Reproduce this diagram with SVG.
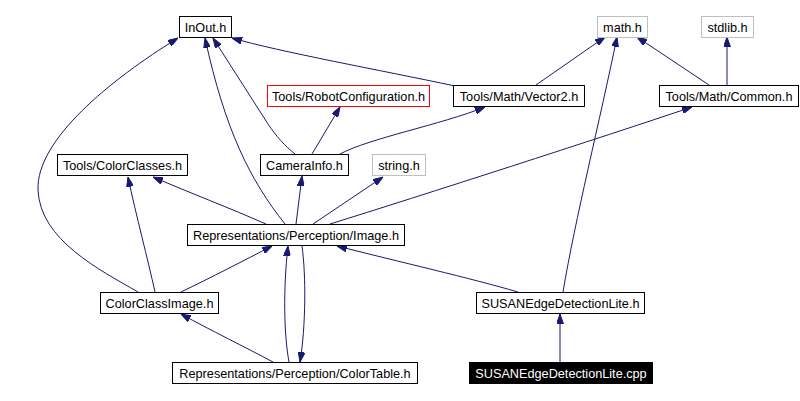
<svg xmlns="http://www.w3.org/2000/svg" width="800" height="401" viewBox="0 0 800 401">
<style>
.n rect{fill:#fff;stroke:#000;stroke-width:1}
.g rect{stroke:#bfbfbf}
.r rect{stroke:#ff0000}
.k rect{fill:#000}
text{font-family:"Liberation Sans",Arial,sans-serif;font-size:12.7px;text-anchor:middle;fill:#000}
.k text{fill:#fff}
#edges path{fill:none;stroke:#191970;stroke-width:1;marker-end:url(#a)}
</style>
<defs>
<marker id="a" markerWidth="10" markerHeight="7" refX="10" refY="3.5" orient="auto" markerUnits="userSpaceOnUse"><path d="M0,0 L10,3.5 L0,7 z" fill="#191970" stroke="#191970" stroke-width="1"/></marker>
</defs>
<rect width="800" height="401" fill="#fff"/>
<g id="edges">
<path d="M138,292 C100,270 40,240 38,190 C36,140 110,80 178,38"/>
<path d="M155,292 C148,260 136,215 128,177"/>
<path d="M181,292 C210,278 245,260 272,246"/>
<path d="M273,362 C245,347 210,330 181,314"/>
<path d="M289,362 C284,335 283,290 288,246"/>
<path d="M302,246 C306,275 306,325 300,362"/>
<path d="M285,224 C250,180 225,130 205,38"/>
<path d="M295,154 C285,146 276,136 268,124 L213,38"/>
<path d="M312,154 L340,107"/>
<path d="M340,154 C370,138 440,125 485,107"/>
<path d="M455,86 C380,70 280,52 232,38"/>
<path d="M536,85 L605,37"/>
<path d="M563,292 C575,220 600,120 617,37"/>
<path d="M709,85 L637,37"/>
<path d="M727,85 L727,37"/>
<path d="M330,224 C420,196 600,138 692,107"/>
<path d="M296,224 L302,176"/>
<path d="M313,224 L383,177"/>
<path d="M266,224 C230,208 190,193 153,177"/>
<path d="M518,292 C470,278 400,262 337,246"/>
<path d="M560,362 L560,314"/>
</g>
<g id="inout" class="n"><rect x="179.5" y="16.5" width="52" height="21"/><text x="205.5" y="31.5">InOut.h</text></g>
<g id="math" class="n g"><rect x="597.5" y="16.5" width="50" height="21"/><text x="622.5" y="31.5">math.h</text></g>
<g id="stdlib" class="n g"><rect x="701.5" y="16.5" width="52" height="21"/><text x="727.5" y="31.5">stdlib.h</text></g>
<g id="robotconfig" class="n r"><rect x="267.5" y="85.5" width="162" height="21"/><text x="348.5" y="100.5">Tools/RobotConfiguration.h</text></g>
<g id="vector2" class="n"><rect x="453.5" y="85.5" width="131" height="21"/><text x="519" y="100.5">Tools/Math/Vector2.h</text></g>
<g id="common" class="n"><rect x="659.5" y="85.5" width="139" height="21"/><text x="729" y="100.5">Tools/Math/Common.h</text></g>
<g id="colorclasses" class="n"><rect x="57.5" y="154.5" width="130" height="21"/><text x="122.5" y="169.5">Tools/ColorClasses.h</text></g>
<g id="camerainfo" class="n"><rect x="260.5" y="154.5" width="88" height="21"/><text x="304.5" y="169.5">CameraInfo.h</text></g>
<g id="string" class="n g"><rect x="372.5" y="154.5" width="53" height="21"/><text x="399" y="169.5">string.h</text></g>
<g id="image" class="n"><rect x="187.5" y="224.5" width="217" height="21"/><text x="296" y="239.5">Representations/Perception/Image.h</text></g>
<g id="colorclassimage" class="n"><rect x="100.5" y="292.5" width="118" height="21"/><text x="159.5" y="307.5">ColorClassImage.h</text></g>
<g id="colortable" class="n"><rect x="172.5" y="362.5" width="245" height="21"/><text x="295" y="377.5">Representations/Perception/ColorTable.h</text></g>
<g id="susanh" class="n"><rect x="476.5" y="292.5" width="168" height="21"/><text x="560.5" y="307.5">SUSANEdgeDetectionLite.h</text></g>
<g id="susancpp" class="n k"><rect x="469.5" y="362.5" width="183" height="21"/><text x="561" y="377.5">SUSANEdgeDetectionLite.cpp</text></g>
</svg>
